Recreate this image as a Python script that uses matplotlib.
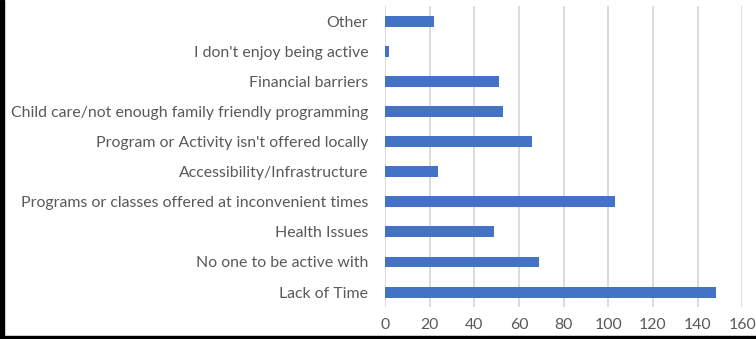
import matplotlib.pyplot as plt
from matplotlib.patches import Rectangle

categories = [
    "Lack of Time",
    "No one to be active with",
    "Health Issues",
    "Programs or classes offered at inconvenient times",
    "Accessibility/Infrastructure",
    "Program or Activity isn't offered locally",
    "Child care/not enough family friendly programming",
    "Financial barriers",
    "I don't enjoy being active",
    "Other",
]
responses = [148, 69, 49, 103, 24, 66, 53, 51, 2, 22]
x_ticks = [0, 20, 40, 60, 80, 100, 120, 140, 160]

plt.rcParams['font.family'] = ['Lato', 'DejaVu Sans']

fig = plt.figure(figsize=(7.56, 3.39), dpi=100)
ax = fig.add_axes([0.509, 0.094, 0.473, 0.888])

positions = range(len(categories))
ax.barh(positions, responses, height=0.36, color='#4472C4', zorder=3)

ax.set_xlim(0, 160)
ax.set_ylim(-0.5, len(categories) - 0.5)
ax.set_xticks(x_ticks)
ax.set_yticks(list(positions))
ax.set_yticklabels(categories)
ax.tick_params(axis='both', length=0, labelsize=11.4, labelcolor='#595959')
ax.tick_params(axis='y', pad=12)
ax.tick_params(axis='x', pad=8)
ax.grid(axis='x', color='#d9d9d9', linewidth=1.3, zorder=0)
for spine in ax.spines.values():
    spine.set_visible(False)

# dark frame along left and bottom edges
fig.patches.append(Rectangle((0, 0), 4 / 756, 1, transform=fig.transFigure,
                             color='black', zorder=10))
fig.patches.append(Rectangle((0, 0), 1, 3 / 339, transform=fig.transFigure,
                             color='black', zorder=10))

fig.savefig('out.png', dpi=100)
